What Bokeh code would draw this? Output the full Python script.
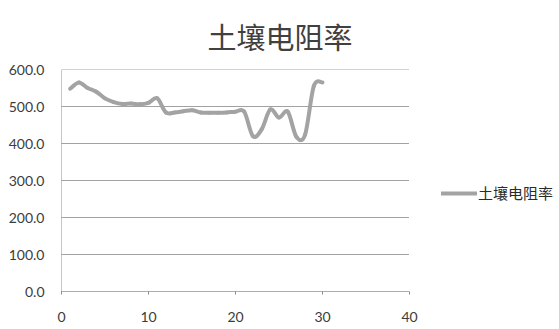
from bokeh.plotting import figure
from bokeh.models import Range1d, FixedTicker, Legend, LegendItem, NumeralTickFormatter
from bokeh.embed import file_html
from bokeh.resources import INLINE

# Soil resistivity readings by sample point
points = list(range(1, 31))
resistivity = [548, 565, 550, 540, 522, 512, 507, 508, 506, 510,
               522, 484, 484, 487, 490, 484, 483, 483, 484, 486,
               486, 420, 438, 492, 470, 486, 418, 424, 555, 565]

x_ticks = [0, 10, 20, 30, 40]
y_ticks = [0, 100, 200, 300, 400, 500, 600]
series_name = "土壤电阻率"

# the frame runs to the right edge so the legend can sit beside the axes;
# axis and gridlines are limited to the 0-40 span
X_AXIS_END = 40
p = figure(width=559, height=329, output_backend="svg", toolbar_location=None,
           x_range=Range1d(0, 57.24), y_range=Range1d(0, 600),
           min_border_left=61, min_border_right=0,
           min_border_top=61, min_border_bottom=38)

p.title.text = series_name
p.title.align = "left"
p.title.offset = 146
p.title.text_font = "Noto Sans CJK SC"
p.title.text_font_size = "29px"
p.title.text_font_style = "normal"
p.title.text_color = "#404040"
p.title.standoff = 25

p.outline_line_color = None
p.background_fill_color = "white"
p.border_fill_color = "white"

# horizontal gridlines across the 0-40 span only
p.xgrid.grid_line_color = None
p.ygrid.grid_line_color = None
p.segment(x0=[0] * len(y_ticks), x1=[X_AXIS_END] * len(y_ticks),
          y0=y_ticks, y1=y_ticks, line_color="#444444", line_width=1,
          line_dash="1 1")

# axes
p.xaxis.ticker = FixedTicker(ticks=x_ticks)
p.xaxis.bounds = (0, X_AXIS_END)
p.yaxis.ticker = FixedTicker(ticks=y_ticks)
p.yaxis.formatter = NumeralTickFormatter(format="0.0")
for ax in (p.xaxis[0], p.yaxis[0]):
    ax.axis_line_color = "#8a8a8a"
    ax.axis_line_dash = "1 1"
    ax.major_tick_line_color = "#8a8a8a"
    ax.minor_tick_line_color = None
    ax.major_label_text_font = "Lato"
    ax.major_label_text_font_size = "14px"
    ax.major_label_text_color = "#3c3c3c"
p.xaxis.major_tick_in = 0
p.xaxis.major_tick_out = 3
p.xaxis.major_label_standoff = 17
p.yaxis.major_tick_in = 0
p.yaxis.major_tick_out = 0
p.yaxis.major_label_standoff = 17

# smoothed curve: Catmull-Rom segments expressed as cubic Beziers
style = dict(line_color="#a3a3a3", line_width=4, line_cap="round")
n = len(points)
x0, y0, x1, y1, cx0, cy0, cx1, cy1 = ([] for _ in range(8))
for i in range(n - 1):
    a = max(i - 1, 0)
    d = min(i + 2, n - 1)
    x0.append(points[i]); y0.append(resistivity[i])
    x1.append(points[i + 1]); y1.append(resistivity[i + 1])
    cx0.append(points[i] + (points[i + 1] - points[a]) / 6)
    cy0.append(resistivity[i] + (resistivity[i + 1] - resistivity[a]) / 6)
    cx1.append(points[i + 1] - (points[d] - points[i]) / 6)
    cy1.append(resistivity[i + 1] - (resistivity[d] - resistivity[i]) / 6)
p.bezier(x0=x0, y0=y0, x1=x1, y1=y1, cx0=cx0, cy0=cy0, cx1=cx1, cy1=cy1, **style)

# legend swatch renderer: a single point lying on the curve's start
swatch = p.line(x=points[:1], y=resistivity[:1], **style)

legend = Legend(items=[LegendItem(label=series_name, renderers=[swatch])],
                location=(380, 88), orientation="vertical",
                glyph_width=36, glyph_height=16, label_standoff=1,
                label_text_font="Noto Sans CJK SC", label_text_font_size="15px",
                label_text_color="#2a2a2a", border_line_color=None,
                background_fill_alpha=0, padding=0, margin=0, spacing=0)
p.add_layout(legend)

open("out.html", "w").write(file_html(p, INLINE))
